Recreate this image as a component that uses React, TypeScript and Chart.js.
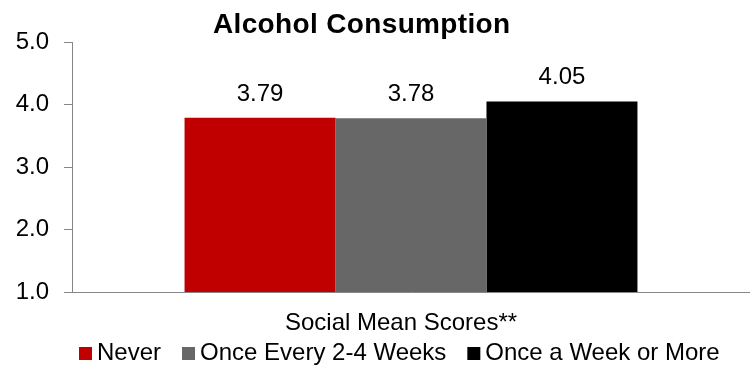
import React, { useEffect, useRef } from "react";
import { Chart, registerables } from "chart.js";

Chart.register(...registerables);

const chartTitle = "Alcohol Consumption";
const categories = ["Social Mean Scores**"];
const seriesNames = ["Never", "Once Every 2-4 Weeks", "Once a Week or More"];
const seriesValues = [3.79, 3.78, 4.05];
const seriesColors = ["#C00000", "#676767", "#000000"];
const yMin = 1;
const yMax = 5;
const yStep = 1;

const FONT = "'Liberation Sans', Arial, sans-serif";
const AXIS_COLOR = "#868686";

const overlayPlugin = {
  id: "overlay",
  afterDatasetsDraw(chart: any) {
    const ctx = chart.ctx;
    ctx.save();
    ctx.fillStyle = "#000";
    ctx.font = `24px ${FONT}`;
    ctx.textAlign = "center";
    ctx.textBaseline = "alphabetic";
    chart.data.datasets.forEach((ds: any, i: number) => {
      const meta = chart.getDatasetMeta(i);
      meta.data.forEach((bar: any, j: number) => {
        const v = ds.data[j] as number;
        ctx.fillText(v.toFixed(2), bar.x, bar.y - 17);
      });
    });
    ctx.restore();
  },
  afterDraw(chart: any) {
    const ctx = chart.ctx;
    ctx.save();
    // Title
    ctx.fillStyle = "#000";
    ctx.font = `bold 28px ${FONT}`;
    ctx.textAlign = "left";
    ctx.textBaseline = "alphabetic";
    try {
      (ctx as any).letterSpacing = "0.35px";
    } catch (e) {}
    ctx.fillText(chartTitle, 213, 33);
    try {
      (ctx as any).letterSpacing = "0px";
    } catch (e) {}
    // Category label (x-axis title)
    ctx.font = `24px ${FONT}`;
    ctx.textAlign = "center";
    ctx.fillText(categories[0], 401, 330);
    // Legend
    ctx.textAlign = "left";
    let x = 79;
    const box = 13;
    const gap = 5;
    const itemGap = 21;
    seriesNames.forEach((name, i) => {
      ctx.fillStyle = seriesColors[i];
      ctx.fillRect(x, 347, box, box);
      ctx.fillStyle = "#000";
      ctx.fillText(name, x + box + gap, 360);
      x += box + gap + ctx.measureText(name).width + itemGap;
    });
    ctx.restore();
  },
};

export default function App() {
  const ref = useRef<HTMLCanvasElement | null>(null);
  useEffect(() => {
    document.body.style.margin = "0";
    const canvas = ref.current!;
    const chart = new Chart(canvas, {
      type: "bar",
      data: {
        labels: categories,
        datasets: seriesNames.map((name, i) => ({
          label: name,
          data: [seriesValues[i]],
          backgroundColor: seriesColors[i],
          borderWidth: 0,
          categoryPercentage: 0.668,
          barPercentage: 1,
        })),
      },
      options: {
        responsive: false,
        animation: false,
        devicePixelRatio: 1,
        layout: { padding: { top: 42, right: 0, bottom: 77, left: 0 } },
        plugins: {
          legend: { display: false },
          title: { display: false },
          tooltip: { enabled: false },
        },
        scales: {
          x: {
            ticks: { display: false },
            grid: { display: false, drawTicks: false },
            border: { display: true, color: AXIS_COLOR, width: 1 },
            afterFit: (s: any) => {
              s.height = 0;
            },
          },
          y: {
            min: yMin,
            max: yMax,
            ticks: {
              stepSize: yStep,
              color: "#000",
              font: { family: FONT, size: 24 },
              padding: 15,
              callback: (v: any) => Number(v).toFixed(1),
            },
            grid: {
              drawOnChartArea: false,
              drawTicks: true,
              tickLength: 8,
              color: AXIS_COLOR,
            },
            border: { display: true, color: AXIS_COLOR, width: 1 },
            afterFit: (s: any) => {
              s.width = 72;
            },
          },
        },
      },
      plugins: [overlayPlugin],
    });
    return () => chart.destroy();
  }, []);
  return (
    <canvas
      ref={ref}
      width={750}
      height={369}
      style={{ display: "block", width: 750, height: 369 }}
    />
  );
}
